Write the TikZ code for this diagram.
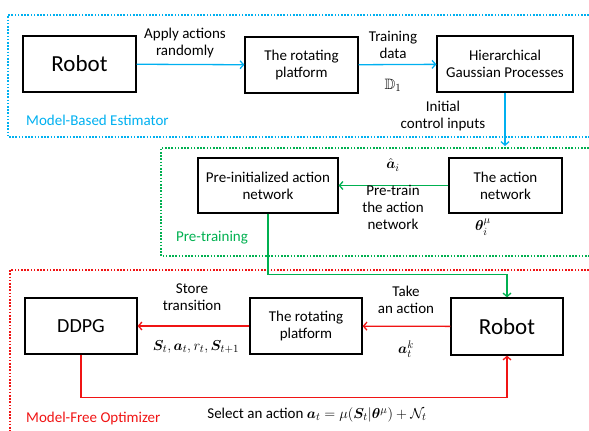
\documentclass[tikz,border=0pt]{standalone}
\usepackage{amsmath,amsfonts,bm}
\usepackage[no-math]{fontspec}
\setmainfont{Carlito}
\usepackage{tikz}
\usetikzlibrary{arrows.meta}
\definecolor{estblue}{RGB}{0,176,240}
\definecolor{pregreen}{RGB}{0,176,80}
\definecolor{optred}{RGB}{240,20,20}

\begin{document}
\begin{tikzpicture}[x=1pt, y=-1pt]
    \tikzset{
        block/.style={draw, line width=1.2pt, align=center, font=\fontsize{15}{17}\selectfont, minimum height=56pt},
        bigblock/.style={block, font=\fontsize{23}{27}\selectfont},
        frame/.style={line width=1.8pt, dash pattern=on 1.6pt off 1.6pt},
        flow/.style={line width=1.3pt, -{Straight Barb[length=3.5pt,width=8pt]}},
        lbl/.style={align=center, inner sep=1pt, font=\fontsize{15}{17}\selectfont},
        tag/.style={anchor=west, inner sep=0pt, font=\fontsize{15}{17}\selectfont}
    }
    \useasboundingbox (0,0) rectangle (589,431);

    % frames
    \draw[frame, estblue] (589,15) -- (8,15) -- (8,137) -- (589,137);
    \draw[frame, pregreen] (589,148) -- (161,148) -- (161,256) -- (589,256);
    \draw[frame, optred] (589,270) -- (10,270) -- (10,431);

    \begin{scope}[local bounding box=estimator]
        \node[bigblock, minimum width=113pt] (robotA) at (79.5,64) {Robot};
        \node[block, minimum width=113pt] (platA) at (301.5,65) {The rotating\\platform};
        \node[block, minimum width=136pt] (hgp) at (505,64) {Hierarchical\\Gaussian Processes};
        \coordinate (initend) at (505,146);

        \draw[flow, estblue] (robotA) -- (platA);
        \draw[flow, estblue] (platA) -- (hgp);
        \draw[flow, estblue] (hgp.south) -- (initend);

        \node[lbl] (applylbl) at (185,43) {Apply actions\\randomly};
        \node[lbl] (datalbl) at (393,45) {Training\\data};
        \node[lbl] (dlbl) at (393,85) {$\mathbb{D}_1$};
        \node[lbl] (initlbl) at (443,116) {Initial\\control inputs};
        \node[tag, estblue] (esttag) at (26,120) {Model-Based Estimator};
    \end{scope}

    \begin{scope}[local bounding box=pretraining]
        \node[block, minimum width=140pt, minimum height=55pt] (preinit) at (268,185.5) {Pre-initialized action\\network};
        \node[block, minimum width=113pt, minimum height=55pt] (actnet) at (505.5,185.5) {The action\\network};

        \draw[flow, pregreen] (actnet) -- (preinit);

        \node[lbl] (hatlbl) at (393,165) {$\hat{\bm{a}}_i$};
        \node[lbl] (pretrainlbl) at (393,207) {Pre-train\\the action\\network};
        \node[lbl] (thetalbl) at (483,227) {$\bm{\theta}_i^{\mu}$};
        \node[tag, pregreen] (pretag) at (176,238) {Pre-training};
    \end{scope}

    \begin{scope}[local bounding box=optimizer]
        \node[bigblock, font=\fontsize{20}{24}\selectfont, minimum width=112pt] (ddpg) at (81,326) {DDPG};
        \node[block, minimum width=112pt] (platB) at (306,326) {The rotating\\platform};
        \node[bigblock, minimum width=112pt, minimum height=57pt] (robotB) at (507,326.5) {Robot};

        \draw[flow, optred] (robotB) -- (platB);
        \draw[flow, optred] (platB) -- (ddpg);
        \draw[flow, optred] (ddpg.south) -- ++(0,43) -| (robotB.south);

        \node[lbl] (takelbl) at (406,300) {Take\\an action};
        \node[lbl] (aklbl) at (406,349) {$\bm{a}_t^k$};
        \node[lbl] (storelbl) at (192,297) {Store\\transition};
        \node[lbl] (translbl) at (196,347) {$\bm{S}_t, \bm{a}_t, r_t, \bm{S}_{t+1}$};
        \node[lbl] (selectlbl) at (317,415) {Select an action $\bm{a}_t = \mu(\bm{S}_t|\bm{\theta}^{\mu}) + \mathcal{N}_t$};
        \node[tag, optred] (opttag) at (26,418) {Model-Free Optimizer};
    \end{scope}

    \draw[flow, pregreen] (preinit.south) -- ++(0,61) -| (robotB.north);
\end{tikzpicture}
\end{document}
